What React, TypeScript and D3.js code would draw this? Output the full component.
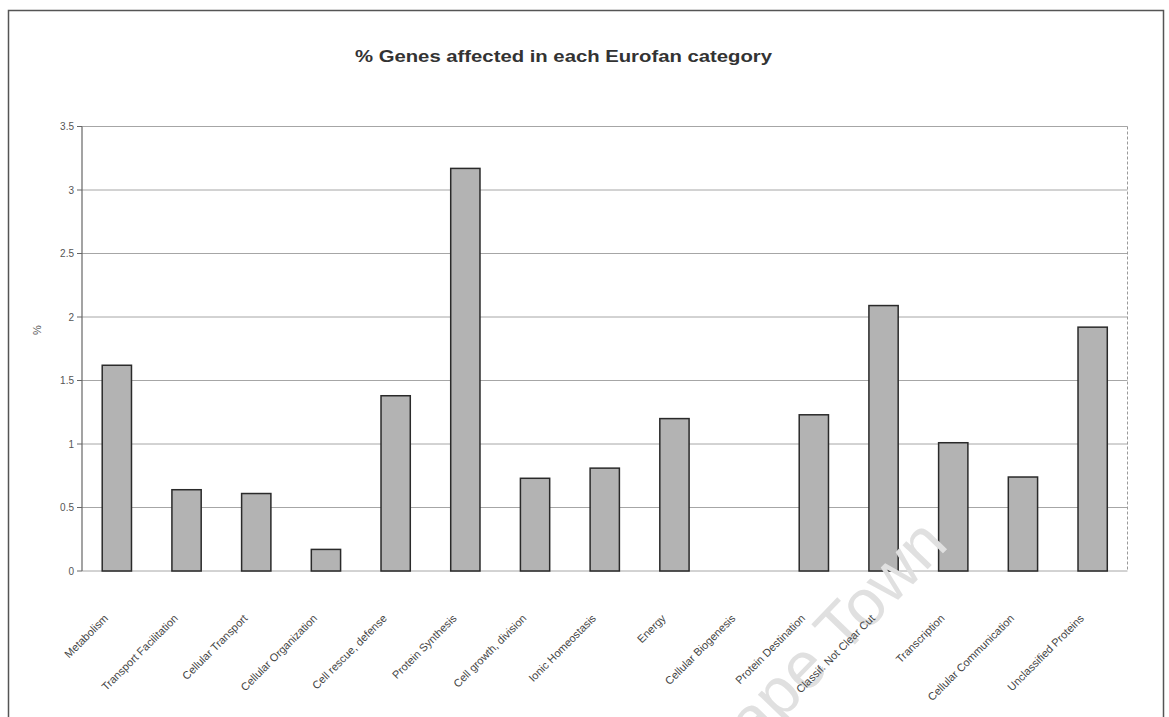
import React from "react";
import * as d3 from "d3";

// Eurofan functional categories and the share of genes affected in each (%)
const categories: string[] = [
  "Metabolism",
  "Transport Facilitation",
  "Cellular Transport",
  "Cellular Organization",
  "Cell rescue, defense",
  "Protein Synthesis",
  "Cell growth, division",
  "Ionic Homeostasis",
  "Energy",
  "Cellular Biogenesis",
  "Protein Destination",
  "Classif. Not Clear Cut",
  "Transcription",
  "Cellular Communication",
  "Unclassified Proteins",
];

const percentAffected: number[] = [
  1.62, 0.64, 0.61, 0.17, 1.38, 3.17, 0.73, 0.81, 1.2, 0, 1.23, 2.09, 1.01, 0.74, 1.92,
];

const yTicks: number[] = [0, 0.5, 1, 1.5, 2, 2.5, 3, 3.5];
const yTickLabels: string[] = ["0", "0.5", "1", "1.5", "2", "2.5", "3", "3.5"];

const title = "% Genes affected in each Eurofan category";
const yAxisTitle = "%";
const watermark = "Cape Town";

const W = 1169;
const H = 717;
const plot = { left: 82, right: 1127.5, top: 126.5, bottom: 571 };

export default function App() {
  const x = d3
    .scaleBand<string>()
    .domain(categories)
    .range([plot.left, plot.right])
    .paddingInner(0.58)
    .paddingOuter(0.29);
  const y = d3.scaleLinear().domain([0, 3.5]).range([plot.bottom, plot.top]);

  const font = "'Liberation Sans', Arial, sans-serif";

  return (
    <div style={{ position: "fixed", left: 0, top: 0 }}>
      <svg width={W} height={H} style={{ display: "block", background: "#fff" }}>
        {/* outer chart frame */}
        <path
          d={`M8.5,${H} V10.5 H1163.5 V${H}`}
          fill="none"
          stroke="#555"
          strokeWidth={1.5}
        />

        <text
          x={563.5}
          y={62}
          textAnchor="middle"
          fontFamily={font}
          fontSize={17}
          fontWeight={600}
          fill="#333"
          textLength={417}
          lengthAdjust="spacingAndGlyphs"
        >
          {title}
        </text>

        {/* gridlines */}
        {yTicks.map((t) => (
          <line
            key={`g${t}`}
            x1={plot.left}
            x2={plot.right}
            y1={y(t)}
            y2={y(t)}
            stroke="#a6a6a6"
            strokeWidth={1}
          />
        ))}

        {/* plot area border */}
        <line x1={plot.right} x2={plot.right} y1={plot.top} y2={plot.bottom} stroke="#999" strokeWidth={1} strokeDasharray="3,2" />
        <line x1={plot.left} x2={plot.left} y1={plot.top} y2={plot.bottom} stroke="#666" strokeWidth={1.2} />

        {/* y ticks and labels */}
        {yTicks.map((t, i) => (
          <g key={`t${t}`}>
            <line x1={plot.left - 5} x2={plot.left} y1={y(t)} y2={y(t)} stroke="#666" />
            <text
              x={74}
              y={y(t)}
              dy="0.35em"
              textAnchor="end"
              fontFamily={font}
              fontSize={10}
              fill="#555"
            >
              {yTickLabels[i]}
            </text>
          </g>
        ))}

        <text
          transform={`translate(41,330) rotate(-90)`}
          textAnchor="middle"
          fontFamily={font}
          fontSize={11}
          fill="#555"
        >
          {yAxisTitle}
        </text>

        {/* bars */}
        {categories.map((c, i) =>
          percentAffected[i] > 0 ? (
            <rect
              key={c}
              x={x(c)!}
              y={y(percentAffected[i])}
              width={x.bandwidth()}
              height={y(0) - y(percentAffected[i])}
              fill="#b3b3b3"
              stroke="#2a2a2a"
              strokeWidth={1.5}
            />
          ) : null
        )}

        {/* faint watermark */}
        <text
          transform="translate(950,546) rotate(-46)"
          textAnchor="end"
          fontFamily={font}
          fontSize={66}
          fill="#e0e0e0"
        >
          {watermark}
        </text>

        {/* category labels */}
        {categories.map((c) => {
          const cx = x(c)! + x.bandwidth() / 2 - 8;
          return (
            <text
              key={`l${c}`}
              transform={`translate(${cx},619) rotate(-45)`}
              textAnchor="end"
              fontFamily={font}
              fontSize={11}
              fill="#444"
            >
              {c}
            </text>
          );
        })}
      </svg>
    </div>
  );
}
